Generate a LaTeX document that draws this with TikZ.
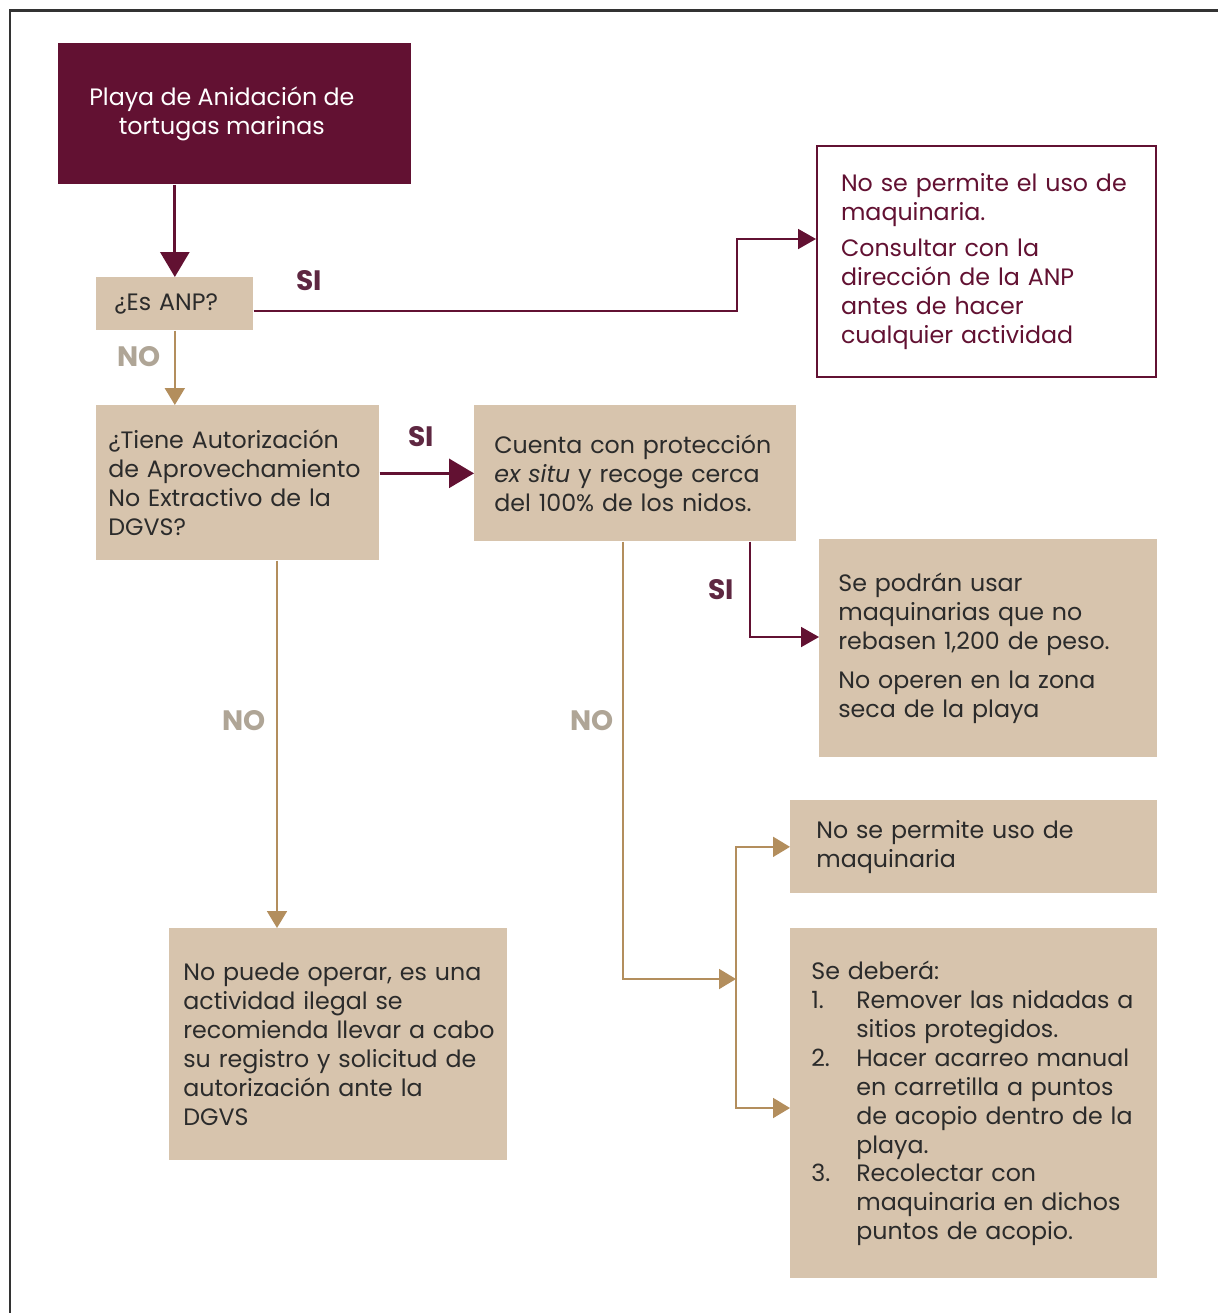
\documentclass[tikz,border=0pt]{standalone}
\usepackage{fontspec}
\setmainfont{Poppins}
\usetikzlibrary{arrows.meta}

\definecolor{guinda}{HTML}{621132}
\definecolor{beige}{HTML}{D7C4AD}
\definecolor{dorado}{HTML}{B38E5D}
\definecolor{gris}{HTML}{AFA596}
\definecolor{siColor}{HTML}{5E2741}
\definecolor{texto}{HTML}{2B2B2B}
\definecolor{marco}{HTML}{333333}

\begin{document}
\begin{tikzpicture}[x=0.02cm,y=-0.02cm,
    caja/.style n args={3}{anchor=north west,fill=beige,text=texto,align=left,inner ysep=0pt,
        text width=#1cm,inner xsep=#2cm,minimum height=#3cm,font=\fontsize{13.5}{16.5}\selectfont},
    etiqueta/.style={font=\fontsize{16}{19}\selectfont\bfseries},
    flechaG/.style={guinda,line width=1.1pt,-{Triangle[length=0.36cm,width=0.4cm]}},
    flechaGG/.style={guinda,line width=1.6pt,-{Triangle[length=0.5cm,width=0.58cm]}},
    flechaD/.style={dorado,line width=1.1pt,-{Triangle[length=0.34cm,width=0.4cm]}}]

\useasboundingbox (0,0) rectangle (1218,1313);

% marco
\draw[marco,line width=1.7pt] (10,1313) -- (10,10) -- (1218,10);

%%%%%%%%%%%%%%%%%%%%%%%%
% cajas
%%%%%%%%%%%%%%%%%%%%%%%%
\node[anchor=north west,fill=guinda,text=white,align=center,inner sep=0pt,
    minimum width=7.06cm,minimum height=2.82cm,font=\fontsize{13.5}{16.5}\selectfont]
    (playa) at (58,43) {Playa de Anidación de\hspace*{0.52cm}\\tortugas marinas\hspace*{0.52cm}};

\node[caja={2.42}{0.36}{1.06}] (anp) at (96,277) {¿Es ANP?};

\node[caja={5.82}{0.48}{4.62},fill=white,draw=guinda,line width=1.2pt,text=guinda]
    (consultar) at (816,145)
    {No se permite el uso de\\maquinaria.\\[0.14cm]Consultar con la\\dirección de la ANP\\antes de hacer\\cualquier actividad};

\node[caja={5.18}{0.24}{3.1}] (autoriza) at (96,405)
    {¿Tiene Autorización\\de Aprovechamiento\\No Extractivo de la\\DGVS?};

\node[caja={5.64}{0.4}{2.72}] (exsitu) at (474,405)
    {Cuenta con protección\\\textit{ex situ} y recoge cerca\\del 100\% de los nidos.};

\node[caja={6.0}{0.38}{4.36}] (maquinas) at (819,539)
    {Se podrán usar\\maquinarias que no\\rebasen 1,200 de peso.\\[0.2cm]No operen en la zona\\seca de la playa};

\node[caja={6.2}{0.28}{4.64}] (ilegal) at (169,928)
    {No puede operar, es una\\actividad ilegal se\\\mbox{recomienda llevar a cabo}\\\mbox{su registro y solicitud de}\\autorización ante la\\DGVS};

\node[caja={6.3}{0.52}{1.86}] (nomaq) at (790,800)
    {No se permite uso de\\maquinaria};

\def \Sangria {\hspace*{0.9cm}}
\node[caja={6.5}{0.42}{7.0}] (debera) at (790,928)
    {Se deberá:\\
    \makebox[0.9cm][l]{1.}Remover las nidadas a\\
    \Sangria sitios protegidos.\\
    \makebox[0.9cm][l]{2.}Hacer acarreo manual\\
    \Sangria en carretilla a puntos\\
    \Sangria de acopio dentro de la\\
    \Sangria playa.\\
    \makebox[0.9cm][l]{3.}Recolectar con\\
    \Sangria maquinaria en dichos\\
    \Sangria puntos de acopio.};

%%%%%%%%%%%%%%%%%%%%%%%%
% conectores
%%%%%%%%%%%%%%%%%%%%%%%%
\coordinate (union) at (736,979);

\draw[flechaGG] (playa.south -| anp.north) -- (anp.north);
\draw[flechaG] (anp.east |- 0,311) -| (737,239) -- (consultar.west |- 0,239);
\draw[flechaD] (anp.south) -- (autoriza.north -| anp.south);
\draw[flechaGG] (autoriza.east |- exsitu.west) -- (exsitu.west);
\draw[flechaG] (exsitu.south -| 750,0) |- (maquinas.west |- 0,637);
\draw[flechaD] (autoriza.south -| 277,0) -- (ilegal.north -| 277,0);
\draw[flechaD] (exsitu.south -| 623,0) |- (union);
\draw[flechaD] (union) |- (nomaq.west);
\draw[flechaD] (union) |- (debera.west |- 0,1108);

% etiquetas SI / NO
\foreach \n/\x/\y/\t/\c in {siA/309/281/SI/siColor, noA/139/357/NO/gris,
    siB/421/437/SI/siColor, siC/721/590/SI/siColor,
    noB/244/721/NO/gris, noC/592/721/NO/gris}
    \node[etiqueta,text=\c] (\n) at (\x,\y) {\t};

\end{tikzpicture}
\end{document}
